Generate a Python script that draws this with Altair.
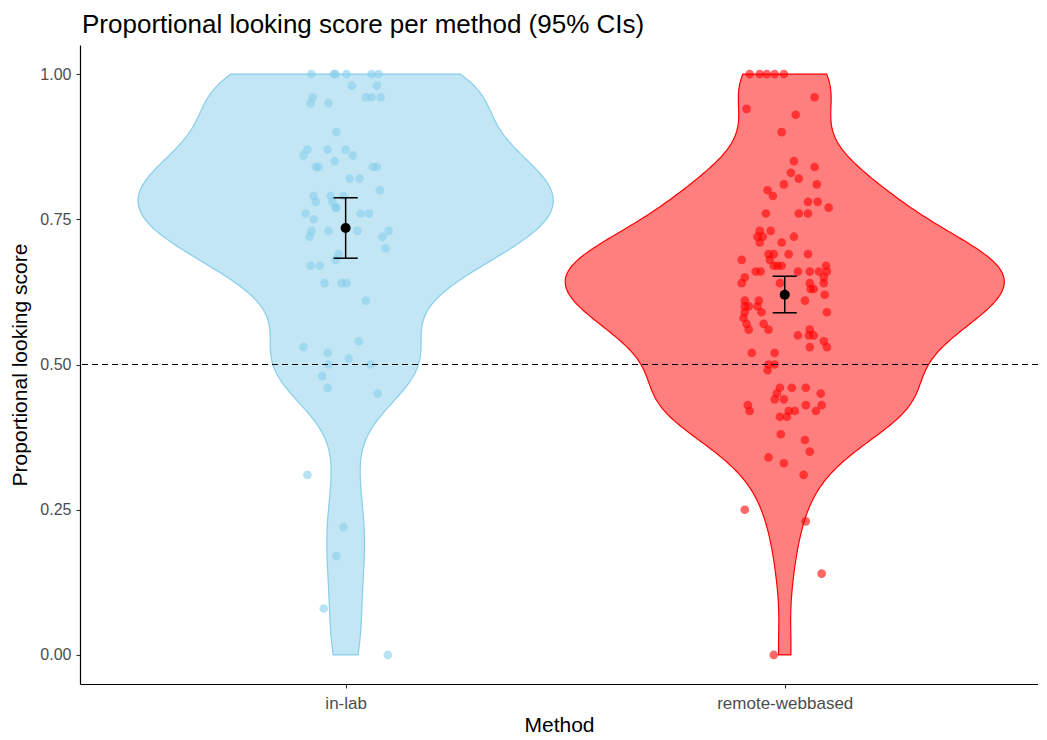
import altair as alt
import pandas as pd
import numpy as np

# ---------------- data ----------------
methods = ["in-lab", "remote-webbased"]
method_pos = [1, 2]

inlab_scores = [1.00, 1.00, 1.00, 1.00, 1.00, 1.00, 0.98, 0.98, 0.96, 0.95,
                0.95, 0.96, 0.96, 0.96, 0.90, 0.87, 0.86, 0.87, 0.87, 0.86,
                0.85, 0.84, 0.84, 0.84, 0.84, 0.82, 0.82, 0.80, 0.79, 0.78,
                0.79, 0.78, 0.77, 0.79, 0.76, 0.75, 0.76, 0.76, 0.77, 0.73,
                0.72, 0.73, 0.73, 0.72, 0.73, 0.70, 0.69, 0.68, 0.67, 0.67,
                0.64, 0.64, 0.64, 0.61, 0.53, 0.54, 0.52, 0.51, 0.50, 0.50,
                0.48, 0.46, 0.45, 0.31, 0.22, 0.17, 0.08, 0.00]
inlab_jitter = [-0.078, -0.027, -0.023, 0.002, 0.059, 0.075, 0.014, 0.071, -0.075, -0.080,
                -0.039, 0.046, 0.059, 0.080, -0.021, -0.087, -0.096, -0.041, 0.000, 0.016,
                -0.025, -0.068, -0.062, 0.062, 0.071, 0.009, 0.032, 0.078, -0.073, -0.068,
                -0.034, -0.030, -0.023, -0.005, -0.091, -0.073, 0.034, 0.053, -0.021, -0.078,
                -0.082, -0.039, 0.027, 0.084, 0.098, 0.091, -0.016, -0.023, -0.080, -0.059,
                -0.048, -0.009, 0.002, 0.046, -0.096, 0.030, -0.041, 0.007, -0.039, 0.057,
                -0.053, -0.041, 0.073, -0.087, -0.005, -0.021, -0.050, 0.096]

remote_scores = [1.00, 1.00, 1.00, 1.00, 1.00, 0.96, 0.94, 0.93, 0.90, 0.85,
                 0.84, 0.83, 0.82, 0.81, 0.81, 0.80, 0.79, 0.78, 0.78, 0.77,
                 0.76, 0.76, 0.76, 0.73, 0.73, 0.72, 0.72, 0.71, 0.71, 0.72,
                 0.69, 0.69, 0.69, 0.69, 0.68, 0.68, 0.67, 0.67, 0.67, 0.67,
                 0.66, 0.65, 0.66, 0.66, 0.66, 0.66, 0.66, 0.65, 0.64, 0.64,
                 0.64, 0.63, 0.63, 0.64, 0.62, 0.61, 0.61, 0.61, 0.60, 0.60,
                 0.60, 0.59, 0.59, 0.59, 0.58, 0.57, 0.56, 0.57, 0.56, 0.55,
                 0.56, 0.55, 0.55, 0.53, 0.54, 0.53, 0.52, 0.52, 0.50, 0.50,
                 0.49, 0.46, 0.46, 0.46, 0.45, 0.44, 0.45, 0.44, 0.43, 0.42,
                 0.43, 0.43, 0.42, 0.42, 0.42, 0.41, 0.41, 0.38, 0.37, 0.35,
                 0.34, 0.33, 0.31, 0.25, 0.23, 0.14, 0.00]
remote_jitter = [-0.080, -0.057, -0.041, -0.023, -0.002, 0.068, -0.087, 0.025, -0.007, 0.021,
                 0.068, 0.014, 0.032, -0.002, 0.073, -0.039, -0.027, 0.053, 0.075, 0.100,
                 -0.043, 0.032, 0.053, -0.057, -0.032, -0.062, -0.050, -0.057, -0.007, 0.021,
                 -0.037, -0.025, 0.009, 0.053, -0.098, -0.034, -0.025, -0.016, -0.007, 0.094,
                 0.096, 0.089, -0.066, -0.055, 0.030, 0.057, 0.078, -0.091, -0.098, -0.011,
                 0.057, 0.066, 0.059, 0.089, 0.091, -0.091, -0.059, 0.046, -0.091, -0.082,
                 -0.062, -0.053, 0.096, -0.091, -0.094, -0.087, -0.082, -0.048, -0.037, 0.030,
                 0.057, 0.066, 0.055, 0.057, 0.089, 0.096, -0.075, -0.023, -0.023, -0.037,
                 -0.039, -0.011, 0.016, 0.048, -0.018, -0.023, 0.082, -0.002, -0.084, -0.080,
                 0.048, 0.084, 0.071, 0.009, 0.023, 0.005, -0.011, -0.009, 0.046, 0.057,
                 -0.037, -0.002, 0.043, -0.091, 0.048, 0.084, -0.025]

mean_scores = [0.735, 0.620]
ci_low = [0.683, 0.589]
ci_high = [0.787, 0.652]

# ---------------- tables ----------------
points = pd.DataFrame({
    "method": [methods[0]] * len(inlab_scores) + [methods[1]] * len(remote_scores),
    "center": [method_pos[0]] * len(inlab_scores) + [method_pos[1]] * len(remote_scores),
    "score": inlab_scores + remote_scores,
    "jit": inlab_jitter + remote_jitter,
})
summary = pd.DataFrame({"method": methods, "center": method_pos,
                        "mean": mean_scores, "lo": ci_low, "hi": ci_high})


def nrd0(v):
    v = np.asarray(v, float)
    sd = v.std(ddof=1)
    iqr = np.subtract(*np.percentile(v, [75, 25]))
    lo = min(sd, iqr / 1.34) if iqr > 0 else sd
    return 0.9 * lo * len(v) ** (-0.2)


def kde(v, bw, grid):
    v = np.asarray(v, float)
    z = (grid[:, None] - v[None, :]) / bw
    return np.exp(-0.5 * z * z).sum(axis=1) / (len(v) * bw * np.sqrt(2 * np.pi))


grid = np.linspace(0, 1, 512)
bws = [nrd0(inlab_scores), nrd0(remote_scores)]
dmax = max(kde(inlab_scores, bws[0], grid).max(), kde(remote_scores, bws[1], grid).max())
half_width = 0.5            # widest violin spans one category unit
k = half_width / dmax

FONT = "Liberation Sans"
PLOT_W, PLOT_H = 958, 639
# ggplot's discrete range is [0.4, 2.6]; the page is slightly narrower, so the
# right end is trimmed while the category spacing stays the same.
x_lo = 0.395
x_hi = x_lo + 2.2 * PLOT_W / 966
xscale = alt.Scale(domain=[x_lo, x_hi], nice=False, zero=False)
yscale = alt.Scale(domain=[-0.05, 1.05], nice=False, zero=False)

label_expr = "datum.value == 1 ? 'in-lab' : 'remote-webbased'"
x_axis = alt.Axis(values=method_pos, labelExpr=label_expr, title="Method",
                  labelFontSize=17, titleFontSize=21, labelPadding=7,
                  titlePadding=3, titleX=(966 / 2) - 4)
y_axis = alt.Axis(values=[0, 0.25, 0.5, 0.75, 1.0], format=".2f",
                  title="Proportional looking score", labelFontSize=16,
                  titleFontSize=21, labelPadding=5, titleX=-60, titleY=PLOT_H / 2,
                  titleAlign="center", titleBaseline="middle", titleAngle=-90)

colors = {"in-lab": ("#87CEEB", "#87CEEB"), "remote-webbased": ("#FF0000", "#FF0000")}


def violin(i):
    name = methods[i]
    stroke, fill = colors[name]
    return (
        alt.Chart(points)
        .transform_filter(alt.datum.method == name)
        .transform_density("score", as_=["score", "density"], bandwidth=float(bws[i]),
                           extent=[0, 1], steps=300)
        .transform_calculate(xl=f"{method_pos[i]} - datum.density * {k}",
                             xr=f"{method_pos[i]} + datum.density * {k}")
        .mark_area(orient="horizontal", fill=fill, fillOpacity=0.5,
                   stroke=stroke, strokeWidth=1.2)
        .encode(y=alt.Y("score:Q", scale=yscale, axis=y_axis),
                x=alt.X("xl:Q", scale=xscale, axis=x_axis),
                x2="xr:Q")
    )


pts = (
    alt.Chart(points)
    .transform_calculate(xp="datum.center + datum.jit")
    .mark_circle(size=75, opacity=0.6)
    .encode(x=alt.X("xp:Q", scale=xscale), y=alt.Y("score:Q", scale=yscale),
            color=alt.Color("method:N", legend=None,
                            scale=alt.Scale(domain=methods, range=["#87CEEB", "#FF0000"])))
)

hline = (
    alt.Chart(pd.DataFrame({"ref": [0.5]}))
    .mark_rule(color="black", strokeDash=[6, 4], strokeWidth=1.1)
    .encode(y=alt.Y("ref:Q", scale=yscale))
)

cap = 0.0275
err = alt.Chart(summary).mark_rule(color="black", strokeWidth=1.5).encode(
    x=alt.X("center:Q", scale=xscale), y=alt.Y("lo:Q", scale=yscale), y2="hi:Q")
caps_lo = (alt.Chart(summary)
           .transform_calculate(a=f"datum.center - {cap}", b=f"datum.center + {cap}")
           .mark_rule(color="black", strokeWidth=1.5)
           .encode(x=alt.X("a:Q", scale=xscale), x2="b:Q", y=alt.Y("lo:Q", scale=yscale)))
caps_hi = (alt.Chart(summary)
           .transform_calculate(a=f"datum.center - {cap}", b=f"datum.center + {cap}")
           .mark_rule(color="black", strokeWidth=1.5)
           .encode(x=alt.X("a:Q", scale=xscale), x2="b:Q", y=alt.Y("hi:Q", scale=yscale)))
means = alt.Chart(summary).mark_circle(size=100, color="black", opacity=1).encode(
    x=alt.X("center:Q", scale=xscale), y=alt.Y("mean:Q", scale=yscale))

chart = (
    alt.layer(violin(0), violin(1), pts, hline, err, caps_lo, caps_hi, means)
    .properties(
        width=PLOT_W, height=PLOT_H,
        title=alt.TitleParams("Proportional looking score per method (95% CIs)",
                              anchor="start", frame="group", fontSize=26, font=FONT,
                              fontWeight="normal", color="black", offset=7, dx=2),
        autosize=alt.AutoSizeParams(type="none"),
        padding={"left": 72, "top": 37, "right": 0, "bottom": 50},
    )
    .configure_view(stroke=None)
    .configure_axis(grid=False, domainColor="black", domainWidth=1.2,
                    tickColor="#333333", tickSize=4, tickWidth=1.1,
                    labelColor="#4D4D4D", labelFont=FONT, titleFont=FONT,
                    titleColor="black", titleFontWeight="normal")
)

chart.save("out.html", embed_options={"renderer": "svg", "actions": False})
